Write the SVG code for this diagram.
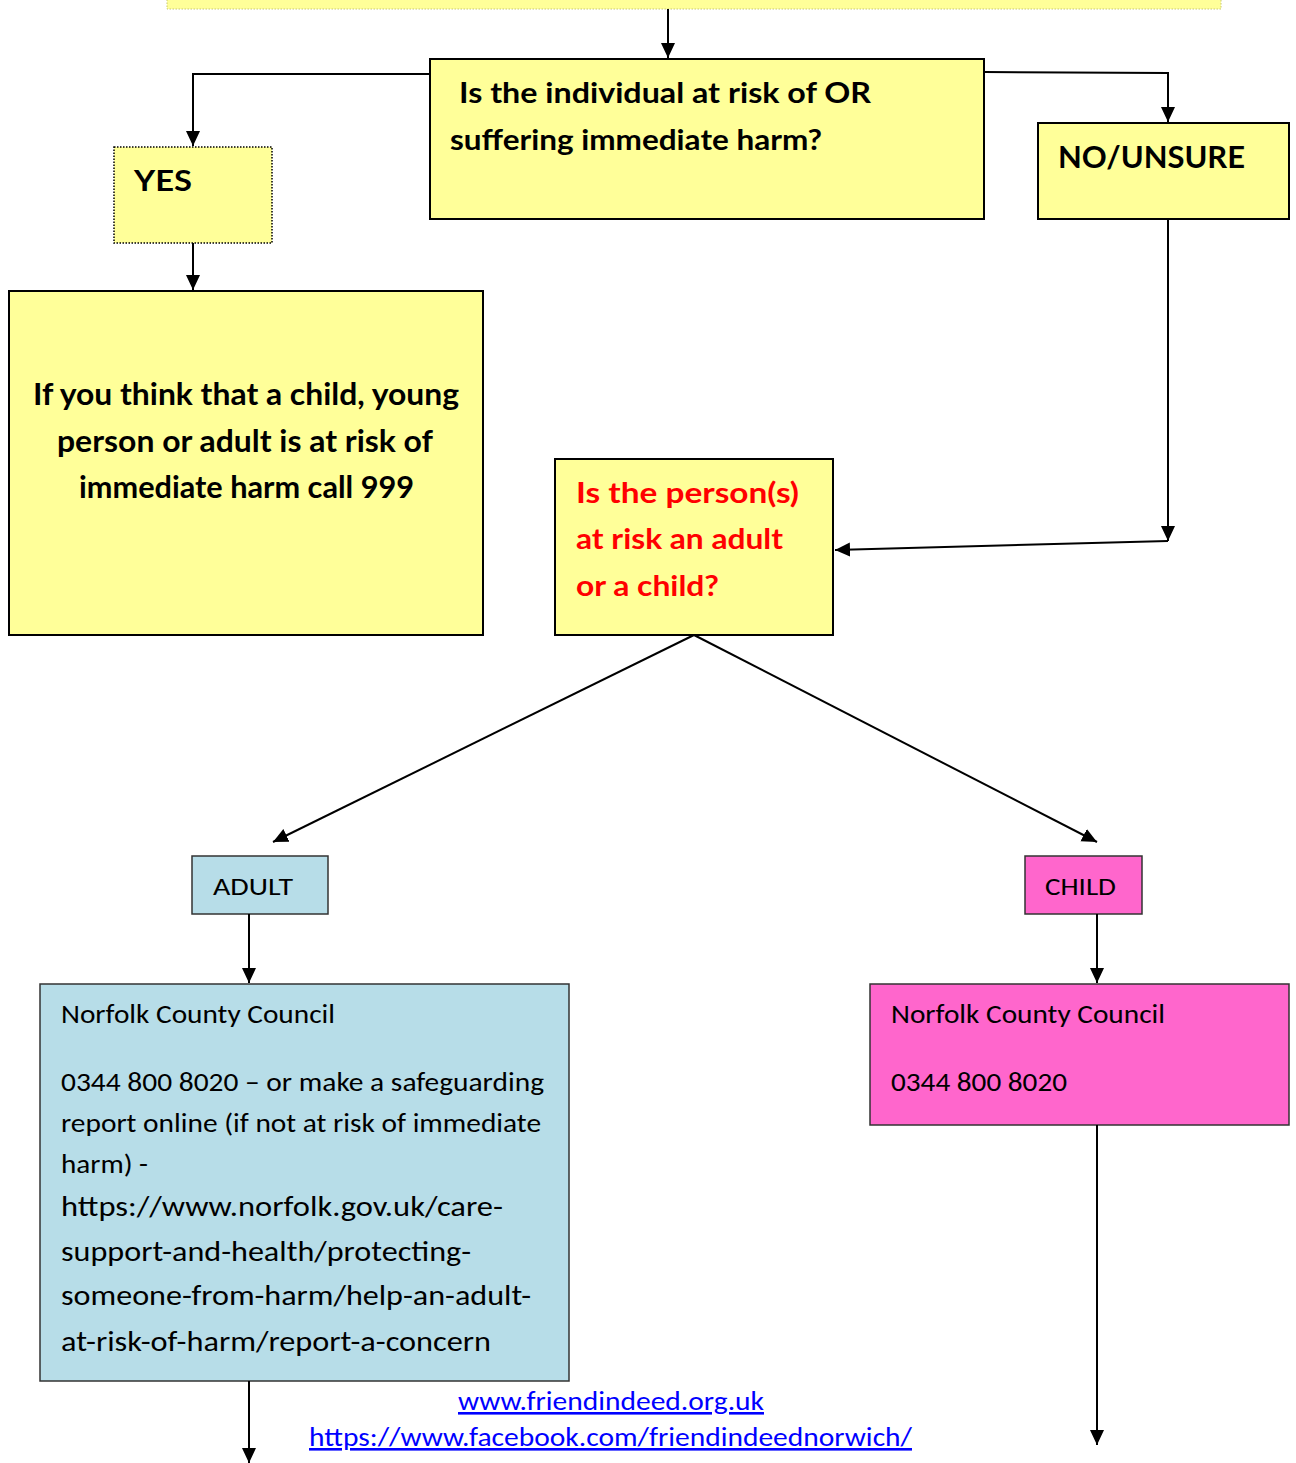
<svg xmlns="http://www.w3.org/2000/svg" width="1296" height="1463" viewBox="0 0 1296 1463">
<defs>
<marker id="ah" markerUnits="userSpaceOnUse" markerWidth="16" markerHeight="16" viewBox="0 0 16 16" refX="15" refY="8" orient="auto">
<path d="M0,1 L15,8 L0,15 Z" fill="#000"/>
</marker>
<style>
.y{fill:#ffff99;stroke:#000;stroke-width:2}
.yd{fill:#ffff99;stroke:#000;stroke-width:1.5;stroke-dasharray:1.5 1.5}
.b{fill:#b7dde8;stroke:#333;stroke-width:1.5}
.p{fill:#ff66cc;stroke:#333;stroke-width:1.5}
.c{font-family:"Comic Sans MS","Lato","Noto Sans",sans-serif;font-weight:bold;fill:#000}
.k{font-family:"Calibri","Carlito","Lato","Open Sans",sans-serif;fill:#000}
.l{font-family:"Calibri","Carlito","Lato","Open Sans",sans-serif;fill:#0000ff;text-decoration:underline}
.cn{fill:none;stroke:#000;stroke-width:2}
</style>
</defs>
<rect width="1296" height="1463" fill="#fff"/>
<g id="top"><rect x="167" y="-20" width="1054" height="29" fill="#ffff99" stroke="#c8c870" stroke-width="1" stroke-dasharray="1.5 1.5"/></g>
<g id="question"><rect class="y" x="430" y="59" width="554" height="160"/>
<text class="c" font-size="28" x="459" y="103" textLength="412" lengthAdjust="spacingAndGlyphs">Is the individual at risk of OR</text>
<text class="c" font-size="28" x="450" y="150" textLength="372" lengthAdjust="spacingAndGlyphs">suffering immediate harm?</text></g>
<g id="yes"><rect class="yd" x="114" y="147" width="158" height="96"/>
<text class="c" font-size="28" x="134" y="191" textLength="58" lengthAdjust="spacingAndGlyphs">YES</text></g>
<g id="call999"><rect class="y" x="9" y="291" width="474" height="344"/>
<text class="c" font-size="30" x="33" y="405" textLength="426" lengthAdjust="spacingAndGlyphs">If you think that a child, young</text>
<text class="c" font-size="30" x="57" y="452" textLength="376" lengthAdjust="spacingAndGlyphs">person or adult is at risk of</text>
<text class="c" font-size="30" x="79" y="498" textLength="335" lengthAdjust="spacingAndGlyphs">immediate harm call 999</text></g>
<g id="nounsure"><rect class="y" x="1038" y="123" width="251" height="96"/>
<text class="c" font-size="30" x="1058" y="168" textLength="187" lengthAdjust="spacingAndGlyphs">NO/UNSURE</text></g>
<g id="adultorchild"><rect class="y" x="555" y="459" width="278" height="176"/>
<text class="c" font-size="29" fill="#ff0000" style="fill:#ff0000" x="576" y="503" textLength="223" lengthAdjust="spacingAndGlyphs">Is the person(s)</text>
<text class="c" font-size="29" style="fill:#ff0000" x="576" y="549" textLength="207" lengthAdjust="spacingAndGlyphs">at risk an adult</text>
<text class="c" font-size="29" style="fill:#ff0000" x="576" y="596" textLength="143" lengthAdjust="spacingAndGlyphs">or a child?</text></g>
<g id="adult"><rect class="b" x="192" y="856" width="136" height="58"/>
<text class="k" font-size="25" x="213" y="895" textLength="80" lengthAdjust="spacingAndGlyphs">ADULT</text></g>
<g id="child"><rect class="p" x="1025" y="856" width="117" height="58"/>
<text class="k" font-size="25" x="1045" y="895" textLength="71" lengthAdjust="spacingAndGlyphs">CHILD</text></g>
<g id="adultncc"><rect class="b" x="40" y="984" width="529" height="397"/>
<text class="k" font-size="26" x="61" y="1023" textLength="274" lengthAdjust="spacingAndGlyphs">Norfolk County Council</text>
<text class="k" font-size="26" x="61" y="1091" textLength="483" lengthAdjust="spacingAndGlyphs">0344 800 8020 – or make a safeguarding</text>
<text class="k" font-size="26" x="61" y="1132" textLength="480" lengthAdjust="spacingAndGlyphs">report online (if not at risk of immediate</text>
<text class="k" font-size="26" x="61" y="1173" textLength="87" lengthAdjust="spacingAndGlyphs">harm) -</text>
<text class="k" font-size="28" x="61" y="1216" textLength="442" lengthAdjust="spacingAndGlyphs">https://www.norfolk.gov.uk/care-</text>
<text class="k" font-size="28" x="61" y="1261" textLength="410" lengthAdjust="spacingAndGlyphs">support-and-health/protecting-</text>
<text class="k" font-size="28" x="61" y="1305" textLength="470" lengthAdjust="spacingAndGlyphs">someone-from-harm/help-an-adult-</text>
<text class="k" font-size="28" x="61" y="1351" textLength="430" lengthAdjust="spacingAndGlyphs">at-risk-of-harm/report-a-concern</text></g>
<g id="childncc"><rect class="p" x="870" y="984" width="419" height="141"/>
<text class="k" font-size="26" x="891" y="1023" textLength="274" lengthAdjust="spacingAndGlyphs">Norfolk County Council</text>
<text class="k" font-size="26" x="891" y="1091" textLength="176" lengthAdjust="spacingAndGlyphs">0344 800 8020</text></g>
<g id="links">
<text class="l" font-size="26" x="458" y="1410" textLength="306" lengthAdjust="spacingAndGlyphs">www.friendindeed.org.uk</text>
<text class="l" font-size="26" x="309" y="1446" textLength="603" lengthAdjust="spacingAndGlyphs">https://www.facebook.com/friendindeednorwich/</text></g>
<g id="connectors">
<path class="cn" d="M668,9 V58" marker-end="url(#ah)"/>
<path class="cn" d="M430,74 H193 V146" marker-end="url(#ah)"/>
<path class="cn" d="M193,243 V290" marker-end="url(#ah)"/>
<path class="cn" d="M984,72 L1168,73 V122" marker-end="url(#ah)"/>
<path class="cn" d="M1168,219 V541" marker-end="url(#ah)"/>
<path class="cn" d="M1168,541 L835,550" marker-end="url(#ah)"/>
<path class="cn" stroke-width="1.5" d="M694,635 L273,842" marker-end="url(#ah)"/>
<path class="cn" stroke-width="1.5" d="M694,635 L1097,842" marker-end="url(#ah)"/>
<path class="cn" d="M249,914 V983" marker-end="url(#ah)"/>
<path class="cn" d="M1097,914 V983" marker-end="url(#ah)"/>
<path class="cn" d="M249,1381 V1463" marker-end="url(#ah)"/>
<path class="cn" d="M1097,1125 V1445" marker-end="url(#ah)"/>
</g>
</svg>
